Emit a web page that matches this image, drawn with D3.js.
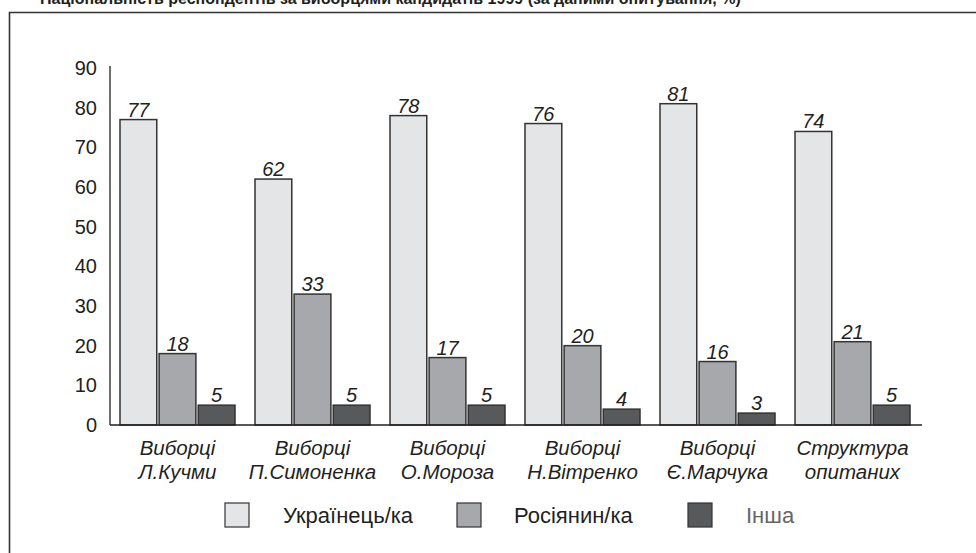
<!DOCTYPE html>
<html>
<head>
<meta charset="utf-8">
<script src="https://cdn.jsdelivr.net/npm/d3@7"></script>
<style>
    body { margin: 0; background: #fff; }
    svg { display: block; font-family: "Liberation Sans", Arial, sans-serif; }
</style>
</head>
<body>
<div id="chart"></div>
<script>
// data
const categories = [
    ["Виборці", "Л.Кучми"],
    ["Виборці", "П.Симоненка"],
    ["Виборці", "О.Мороза"],
    ["Виборці", "Н.Вітренко"],
    ["Виборці", "Є.Марчука"],
    ["Структура", "опитаних"]
];
const seriesNames = ["Українець/ка", "Росіянин/ка", "Інша"];
const ukrainian = [77, 62, 78, 76, 81, 74];
const russian = [18, 33, 17, 20, 16, 21];
const other = [5, 5, 5, 4, 3, 5];
const yTicks = [0, 10, 20, 30, 40, 50, 60, 70, 80, 90];

const colors = ["#e4e5e7", "#a7a8ab", "#58595b"];
const values = [ukrainian, russian, other];

const width = 976, height = 553;
const margin = { top: 68, right: 56, bottom: 128, left: 110 };

const svg = d3.select("#chart").append("svg")
    .attr("width", width)
    .attr("height", height);

// title, cut off at the top edge like in the source
svg.append("text")
    .attr("x", 40)
    .attr("y", 4)
    .attr("font-size", 16)
    .attr("font-weight", "bold")
    .attr("fill", "#231f20")
    .text("Національність респондентів за виборцями кандидатів 1999 (за даними опитування, %)");

// frame
svg.append("path")
    .attr("d", "M9.5," + height + "V12.5H" + width)
    .attr("fill", "none")
    .attr("stroke", "#333")
    .attr("stroke-width", 1.6);

const x0 = d3.scaleBand()
    .domain(d3.range(categories.length))
    .range([margin.left, width - margin.right]);

const x1 = d3.scaleBand()
    .domain(d3.range(seriesNames.length))
    .range([10, x0.bandwidth() - 10])
    .paddingInner(0.06);

const y = d3.scaleLinear()
    .domain([0, 90])
    .range([height - margin.bottom, margin.top]);

// y axis
const yAxis = svg.append("g")
    .attr("transform", "translate(" + margin.left + ",0)")
    .call(d3.axisLeft(y).tickValues(yTicks).tickSize(0).tickPadding(13));
yAxis.select(".domain").attr("stroke", "#231f20").attr("stroke-width", 1.3)
    .attr("d", "M0," + (y(90) - 2) + "V" + y(0));
yAxis.selectAll("text")
    .attr("font-size", 20)
    .attr("fill", "#231f20")
    .attr("font-family", "Liberation Sans, Arial, sans-serif");

// bars
const groups = svg.append("g").selectAll("g")
    .data(categories)
    .join("g")
    .attr("transform", (d, i) => "translate(" + x0(i) + ",0)");

seriesNames.forEach((name, s) => {
    groups.append("rect")
        .attr("x", x1(s))
        .attr("width", x1.bandwidth())
        .attr("y", (d, i) => y(values[s][i]))
        .attr("height", (d, i) => y(0) - y(values[s][i]))
        .attr("fill", colors[s])
        .attr("stroke", "#333")
        .attr("stroke-width", 1.5);

    groups.append("text")
        .attr("x", x1(s) + x1.bandwidth() / 2)
        .attr("y", (d, i) => y(values[s][i]) - 3)
        .attr("text-anchor", "middle")
        .attr("font-size", 20)
        .attr("font-style", "italic")
        .attr("fill", "#231f20")
        .text((d, i) => values[s][i]);
});

// x baseline
svg.append("line")
    .attr("x1", margin.left)
    .attr("x2", width - margin.right + 2)
    .attr("y1", y(0))
    .attr("y2", y(0))
    .attr("stroke", "#231f20")
    .attr("stroke-width", 1.5);

// category labels
groups.append("text")
    .attr("text-anchor", "middle")
    .attr("font-size", 20.5)
    .attr("font-style", "italic")
    .attr("fill", "#231f20")
    .selectAll("tspan")
    .data(d => d)
    .join("tspan")
    .attr("x", x0.bandwidth() / 2)
    .attr("y", (d, j) => 455 + j * 24)
    .text(d => d);

// legend
const legendX = [225, 457, 688];
const legend = svg.append("g").selectAll("g")
    .data(seriesNames)
    .join("g")
    .attr("transform", (d, i) => "translate(" + legendX[i] + ",503)");

legend.append("rect")
    .attr("width", 24)
    .attr("height", 24)
    .attr("fill", (d, i) => colors[i])
    .attr("stroke", "#333")
    .attr("stroke-width", 1.2);

legend.append("text")
    .attr("x", (d, i) => i == 1 ? 57 : 58)
    .attr("y", 20)
    .attr("font-size", 22)
    .attr("fill", (d, i) => i == 2 ? "#666" : "#231f20")
    .text(d => d);
</script>
</body>
</html>
